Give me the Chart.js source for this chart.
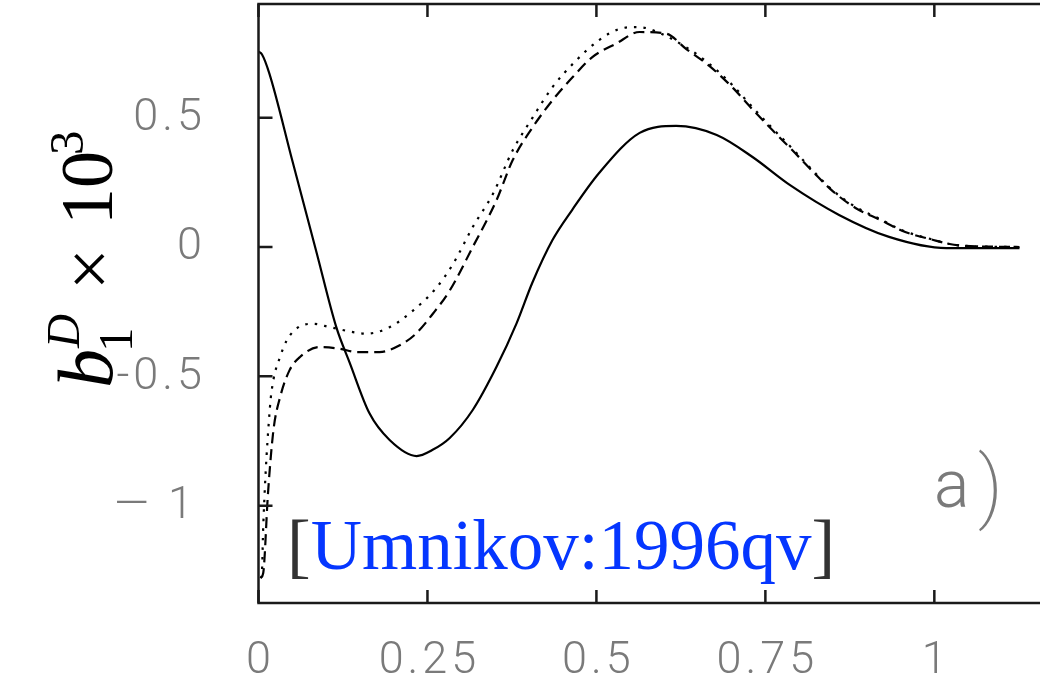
<!DOCTYPE html>
<html>
<head>
<meta charset="utf-8">
<script src="https://cdn.jsdelivr.net/npm/chart.js@4.4.1/dist/chart.umd.min.js"></script>
<style>
  html, body { margin: 0; padding: 0; background: #fff; overflow: hidden; }
  #wrap { width: 1080px; height: 682px; }
</style>
</head>
<body>
<div id="wrap"><canvas id="chart" width="1080" height="682"></canvas></div>
<script>
// axes
const xTicks = [0, 0.25, 0.5, 0.75, 1];
const xTickLabels = ['0', '0.25', '0.5', '0.75', '1'];
const yTicks = [-1, -0.5, 0, 0.5];
const yTickLabels = ['\u2014 1', '-0.5', '0', '0.5'];

// solid curve
const solidX = [0, 0.005, 0.016, 0.05, 0.086, 0.115, 0.135, 0.164, 0.194, 0.234, 0.257, 0.283, 0.317,
  0.352, 0.382, 0.405, 0.435, 0.464, 0.504, 0.564, 0.618, 0.678, 0.731, 0.786, 0.859, 0.933, 1.018, 1.126];
const solidY = [0.755, 0.745, 0.671, 0.334, -0.022, -0.309, -0.448, -0.642, -0.746, -0.808, -0.785, -0.738, -0.630,
  -0.464, -0.294, -0.139, 0.027, 0.143, 0.286, 0.441, 0.468, 0.433, 0.348, 0.240, 0.124, 0.039, -0.004, -0.004];

// dashed curve
const dashedX = [0.003, 0.007, 0.014, 0.022, 0.032, 0.046, 0.061, 0.090, 0.120, 0.145, 0.179, 0.209, 0.233, 0.258,
  0.283, 0.317, 0.352, 0.376, 0.406, 0.435, 0.465, 0.494, 0.529, 0.564, 0.603, 0.633, 0.667, 0.702, 0.731, 0.761,
  0.790, 0.820, 0.850, 0.884, 0.919, 0.953, 0.993, 1.037, 1.126];
const dashedY = [-1.28, -1.26, -0.954, -0.71, -0.58, -0.476, -0.426, -0.387, -0.393, -0.406, -0.406, -0.380, -0.335, -0.258,
  -0.168, 0.0, 0.180, 0.335, 0.464, 0.567, 0.657, 0.734, 0.786, 0.831, 0.825, 0.765, 0.700, 0.615, 0.532, 0.450,
  0.374, 0.292, 0.215, 0.150, 0.106, 0.062, 0.031, 0.006, 0];

// dotted curve
const dottedX = [0.003, 0.005, 0.007, 0.017, 0.022, 0.032, 0.042, 0.059, 0.081, 0.106, 0.140, 0.160, 0.194, 0.229,
  0.264, 0.288, 0.317, 0.347, 0.376, 0.406, 0.435, 0.470, 0.504, 0.534, 0.559, 0.578, 0.633, 0.667, 0.702, 0.731,
  0.761, 0.790, 0.820, 0.850, 0.884, 0.919, 0.953, 0.993, 1.037, 1.126];
const dottedY = [-1.28, -1.26, -1.08, -0.617, -0.515, -0.424, -0.36, -0.31, -0.297, -0.31, -0.329, -0.335, -0.31, -0.245,
  -0.155, -0.065, 0.077, 0.206, 0.373, 0.502, 0.618, 0.721, 0.80, 0.843, 0.850, 0.843, 0.772, 0.708, 0.624, 0.540,
  0.457, 0.380, 0.296, 0.218, 0.154, 0.109, 0.064, 0.032, 0.006, 0];

const pts = (xs, ys) => xs.map((x, i) => ({ x, y: ys[i] }));

const TICK_FONT = '300 45px Roboto';
const TICK_COLOR = '#7a7a7a';
const FRAME = '#1a1a1a';

// frame, inward ticks, tick labels, texts
const decor = {
  id: 'decor',
  afterDraw(chart) {
    const { ctx, chartArea: a, scales: { x, y } } = chart;
    ctx.save();
    ctx.strokeStyle = FRAME;
    ctx.lineWidth = 2.5;
    ctx.strokeRect(a.left, a.top, a.right - a.left, a.bottom - a.top);
    ctx.beginPath();
    xTicks.forEach(v => {
      const px = x.getPixelForValue(v);
      ctx.moveTo(px, a.bottom); ctx.lineTo(px, a.bottom - 13);
      ctx.moveTo(px, a.top); ctx.lineTo(px, a.top + 13);
    });
    yTicks.forEach(v => {
      const py = y.getPixelForValue(v);
      ctx.moveTo(a.left, py); ctx.lineTo(a.left + 14, py);
      ctx.moveTo(a.right, py); ctx.lineTo(a.right - 14, py);
    });
    ctx.stroke();

    // tick labels
    ctx.font = TICK_FONT;
    ctx.fillStyle = TICK_COLOR;
    ctx.letterSpacing = '4px';
    ctx.textBaseline = 'middle';
    ctx.textAlign = 'center';
    xTicks.forEach((v, i) => ctx.fillText(xTickLabels[i], x.getPixelForValue(v) + 2, 662));
    ctx.textAlign = 'right';
    yTicks.forEach((v, i) => ctx.fillText(yTickLabels[i], v === -1 ? 197 : 206, y.getPixelForValue(v) + 1));

    // panel tag
    ctx.textAlign = 'left';
    ctx.textBaseline = 'alphabetic';
    ctx.letterSpacing = '0px';
    ctx.font = '300 66px Roboto';
    ctx.fillText('a', 934, 507);
    ctx.font = '200 80px Roboto';
    ctx.fillText(')', 978, 513);

    // citation
    ctx.font = '71px "Liberation Serif"';
    ctx.fillStyle = '#333';
    ctx.fillText('[', 287, 569);
    let cx = 287 + ctx.measureText('[').width;
    ctx.fillStyle = '#0536ff';
    ctx.fillText('Umnikov:1996qv', cx, 569);
    cx += ctx.measureText('Umnikov:1996qv').width;
    ctx.fillStyle = '#333';
    ctx.fillText(']', cx, 569);

    // y axis title: b_1^D x 10^3
    ctx.fillStyle = '#000';
    ctx.translate(112, 388);
    ctx.rotate(-Math.PI / 2);
    ctx.font = 'italic 78px "Liberation Serif"';
    ctx.fillText('b', 0, 0);
    ctx.font = 'italic 47px "Liberation Serif"';
    ctx.fillText('D', 40, -33);
    ctx.font = '49px "Liberation Serif"';
    ctx.fillText('1', 36, 20);
    ctx.font = '74px "Liberation Serif"';
    ctx.fillText('\u00d7', 98, 2);
    ctx.fillText('10', 163, 0);
    ctx.font = '49px "Liberation Serif"';
    ctx.fillText('3', 233, -29);
    ctx.restore();
  }
};

const line = (data, dash) => ({
  data,
  borderColor: '#000',
  borderWidth: 2.2,
  borderDash: dash,
  pointRadius: 0,
  fill: false,
  cubicInterpolationMode: 'monotone'
});

new Chart(document.getElementById('chart'), {
  type: 'line',
  data: {
    datasets: [
      line(pts(solidX, solidY), []),
      line(pts(dashedX, dashedY), [11, 6]),
      line(pts(dottedX, dottedY), [2.5, 7])
    ]
  },
  options: {
    responsive: false,
    devicePixelRatio: 1,
    animation: false,
    layout: { padding: { left: 0, top: 4, right: 10.5, bottom: 0 } },
    plugins: { legend: { display: false }, tooltip: { enabled: false } },
    scales: {
      x: {
        type: 'linear', min: 0, max: 1.2,
        grid: { display: false }, border: { display: false },
        ticks: { display: false },
        afterFit: s => { s.height = 79; }
      },
      y: {
        type: 'linear', min: -1.3761, max: 0.9393,
        grid: { display: false }, border: { display: false },
        ticks: { display: false },
        afterFit: s => { s.width = 258.5; }
      }
    }
  },
  plugins: [decor]
});
</script>
</body>
</html>
